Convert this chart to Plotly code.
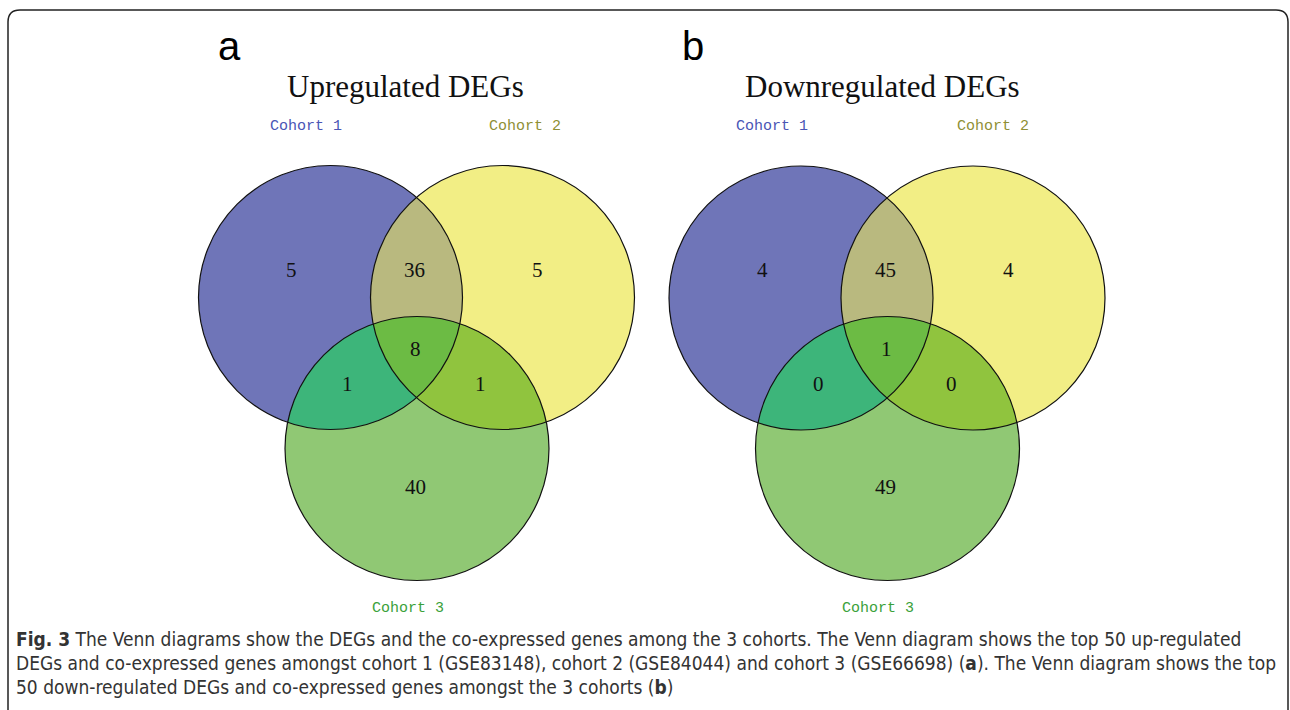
import numpy as np
import plotly.graph_objects as go

# ---------------- data ----------------
panel_letters = ["a", "b"]
panel_titles = ["Upregulated DEGs", "Downregulated DEGs"]
set_names = ["Cohort 1", "Cohort 2", "Cohort 3"]
# region counts: only1, only2, only3, 1&2, 1&3, 2&3, 1&2&3
up_counts = [5, 5, 40, 36, 1, 1, 8]
down_counts = [4, 4, 49, 45, 0, 0, 1]
caption_lines = [
    "<b>Fig. 3</b> The Venn diagrams show the DEGs and the co-expressed genes among the 3 cohorts. The Venn diagram shows the top 50 up-regulated",
    "DEGs and co-expressed genes amongst cohort 1 (GSE83148), cohort 2 (GSE84044) and cohort 3 (GSE66698) (<b>a</b>). The Venn diagram shows the top",
    "50 down-regulated DEGs and co-expressed genes amongst the 3 cohorts (<b>b</b>)",
]

# ---------------- style / layout ----------------
W, H = 1290, 710
R = 132
panels = [
    dict(c=[(330.5, 297.5), (502.5, 297.5), (417, 448.5)], counts=up_counts,
         letter_x=229, title_x=405, lab=[(306, 126), (525, 126), (408, 608)]),
    dict(c=[(801, 298), (973, 298), (887.5, 448.5)], counts=down_counts,
         letter_x=693, title_x=882, lab=[(772, 126), (993, 126), (878, 608)]),
]
col_single = ["#6f75b8", "#f2ee85", "#90c874"]
col_pair = {(0, 1): "#b9b97f", (0, 2): "#3db57a", (1, 2): "#90c43e"}
col_triple = "#6cbb44"
label_cols = ["#4a55b5", "#8f8f35", "#3aa13a"]

fig = go.Figure()


def circle_pts(c, n=720):
    t = np.linspace(0, 2 * np.pi, n, endpoint=False)
    return np.c_[c[0] + R * np.cos(t), c[1] + R * np.sin(t)]


def intersection_poly(cs):
    pts = []
    for i, c in enumerate(cs):
        p = circle_pts(c)
        ok = np.ones(len(p), bool)
        for j, d in enumerate(cs):
            if j != i:
                ok &= np.hypot(p[:, 0] - d[0], p[:, 1] - d[1]) <= R + 1e-9
        pts.append(p[ok])
    pts = np.vstack(pts)
    cx, cy = pts.mean(axis=0)
    order = np.argsort(np.arctan2(pts[:, 1] - cy, pts[:, 0] - cx))
    pts = pts[order]
    return np.vstack([pts, pts[:1]])


def add_poly(pts, color):
    fig.add_trace(go.Scatter(x=pts[:, 0], y=pts[:, 1], mode="lines", fill="toself",
                             fillcolor=color, line=dict(width=0, color=color),
                             hoverinfo="skip", showlegend=False))


annotations = []
shapes = []
for p in panels:
    cs = p["c"]
    for i in range(3):
        pts = circle_pts(cs[i])
        add_poly(np.vstack([pts, pts[:1]]), col_single[i])
    for (i, j), col in col_pair.items():
        add_poly(intersection_poly([cs[i], cs[j]]), col)
    add_poly(intersection_poly(cs), col_triple)
    for c in cs:
        shapes.append(dict(type="circle", xref="x", yref="y",
                           x0=c[0] - R, x1=c[0] + R, y0=c[1] - R, y1=c[1] + R,
                           line=dict(color="#111111", width=1.2)))
    c1, c2, c3 = cs
    mx = (c1[0] + c2[0]) / 2
    pos = [
        (c1[0] - 39, 270), (c2[0] + 35, 270), (c3[0] - 2, 487),
        (mx - 2, 270), (c1[0] + 17, 384), (c2[0] - 22, 384), (mx - 1, 349),
    ]
    for (x, y), v in zip(pos, p["counts"]):
        annotations.append(dict(x=x, y=y, xref="x", yref="y", text=str(v), showarrow=False,
                                font=dict(family="Liberation Serif", size=21, color="#111111")))
    for k, (x, y) in enumerate(p["lab"]):
        annotations.append(dict(x=x, y=y, xref="x", yref="y", text=set_names[k], showarrow=False,
                                font=dict(family="Liberation Mono", size=15, color=label_cols[k])))

for k, p in enumerate(panels):
    annotations.append(dict(x=p["letter_x"], y=46, xref="x", yref="y", text=panel_letters[k],
                            showarrow=False,
                            font=dict(family="Liberation Sans", size=40, color="#000000")))
    annotations.append(dict(x=p["title_x"], y=86, xref="x", yref="y", text=panel_titles[k],
                            showarrow=False,
                            font=dict(family="Liberation Serif", size=31, color="#111111")))

for i, line in enumerate(caption_lines):
    annotations.append(dict(x=14, y=639 + 24 * i, xref="x", yref="y", text=line, showarrow=False,
                            xanchor="left",
                            font=dict(family="DejaVu Sans Condensed, Liberation Sans Narrow",
                                      size=19, color="#333333")))

# rounded frame (open at bottom)
shapes.append(dict(type="path", xref="x", yref="y",
                   path="M 8 712 L 8 22 Q 8 10 20 10 L 1276 10 Q 1288 10 1288 22 L 1288 712",
                   line=dict(color="#222222", width=1.5)))

fig.update_layout(
    width=W, height=H, margin=dict(l=0, r=0, t=0, b=0),
    paper_bgcolor="white", plot_bgcolor="white",
    xaxis=dict(range=[0, W], visible=False, fixedrange=True),
    yaxis=dict(range=[H, 0], visible=False, fixedrange=True),
    shapes=shapes, annotations=annotations, showlegend=False,
)
fig.write_html("out.html", config=dict(displayModeBar=False),
               post_script="document.body.style.margin='0';document.body.style.overflow='hidden';")
